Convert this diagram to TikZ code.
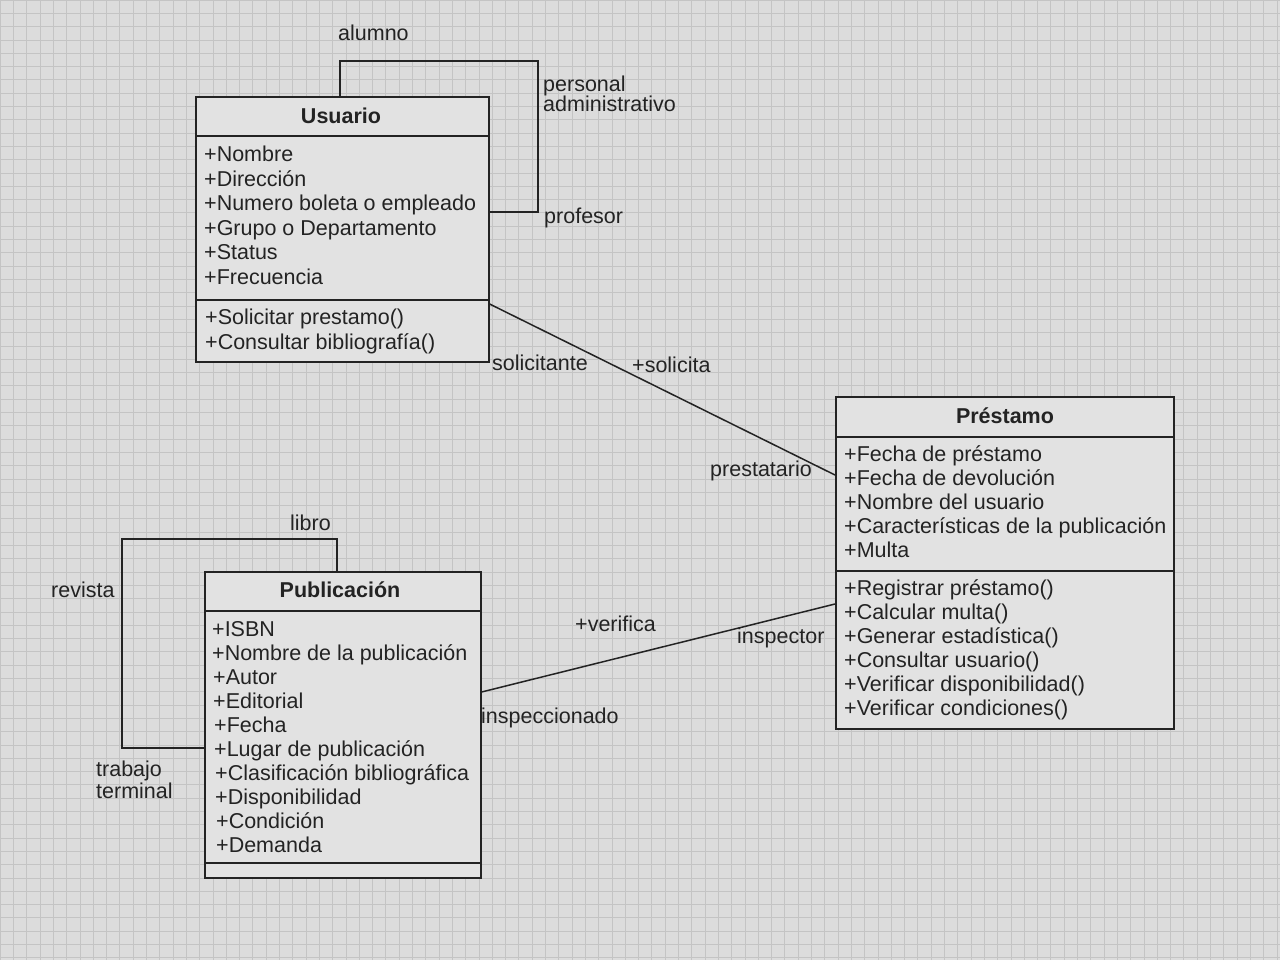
\documentclass[tikz,border=0pt]{standalone}
\usepackage{fontspec}
\setmainfont{Liberation Sans}
\usetikzlibrary{calc}
\definecolor{bg}{RGB}{220,220,220}
\definecolor{gridc}{RGB}{196,196,196}
\definecolor{ink}{RGB}{35,35,35}
\definecolor{boxfill}{RGB}{226,226,226}
\begin{document}
\begin{tikzpicture}[x=1pt,y=-1pt,
  txt/.style={inner sep=0pt, anchor=base west, text=ink, font=\fontsize{21.5}{24}\selectfont},
  ttl/.style={inner sep=0pt, anchor=base, text=ink, font=\fontsize{21.5}{24}\selectfont\bfseries},
  umlbox/.style={draw=ink, line width=1.6pt, fill=boxfill, anchor=north west, inner sep=0pt},
  conn/.style={draw=ink, line width=1.5pt},
  divider/.style={draw=ink, line width=1.6pt},
]
% background and grid
\fill[bg] (0,0) rectangle (1280,960);
\useasboundingbox (0,0) rectangle (1280,960);
\foreach \i in {0,...,96} {\draw[gridc, line width=0.6pt] (\i*13.3,0) -- (\i*13.3,960);}
\foreach \j in {0,...,72} {\draw[gridc, line width=0.6pt] (0,\j*13.3) -- (1280,\j*13.3);}

% ---------------- Usuario ----------------
\node[umlbox, minimum width=293pt, minimum height=265pt] (usr) at (195,96) {};
\draw[divider] ($(usr.north west)+(0,40)$) -- ($(usr.north east)+(0,40)$);
\draw[divider] ($(usr.north west)+(0,204)$) -- ($(usr.north east)+(0,204)$);
\node[ttl] (usrT) at (341,124) {Usuario};
\node[txt] (u1) at (204,162) {+Nombre};
\node[txt] (u2) at (204,186.5) {+Dirección};
\node[txt] (u3) at (204,211) {+Numero boleta o empleado};
\node[txt] (u4) at (204,235.5) {+Grupo o Departamento};
\node[txt] (u5) at (204,260) {+Status};
\node[txt] (u6) at (204,284.5) {+Frecuencia};
\node[txt] (um1) at (205,324) {+Solicitar prestamo()};
\node[txt] (um2) at (205,349) {+Consultar bibliografía()};

% self association of Usuario
\coordinate (uLa) at ($(usr.north west)+(145,0)$);
\coordinate (uLb) at ($(usr.north west)+(145,-35)$);
\coordinate (uLc) at (538,61);
\coordinate (uLd) at (538,212);
\coordinate (uLe) at (usr.east |- uLd);
\draw[conn] (uLa) -- (uLb) -- (uLc) -- (uLd) -- (uLe);
\node[txt] (lAlumno) at (338,40.5) {alumno};
\node[txt] (lPers1) at (543,92) {personal};
\node[txt] (lPers2) at (543,112) {administrativo};
\node[txt] (lProf) at (544,224) {profesor};

% ---------------- Préstamo ----------------
\node[umlbox, minimum width=338pt, minimum height=332pt] (pre) at (835,396) {};
\draw[divider] ($(pre.north west)+(0,41)$) -- ($(pre.north east)+(0,41)$);
\draw[divider] ($(pre.north west)+(0,175)$) -- ($(pre.north east)+(0,175)$);
\node[ttl] (preT) at (1005,423) {Préstamo};
\node[txt] (p1) at (844,461) {+Fecha de préstamo};
\node[txt] (p2) at (844,485) {+Fecha de devolución};
\node[txt] (p3) at (844,509) {+Nombre del usuario};
\node[txt] (p4) at (844,533) {+Características de la publicación};
\node[txt] (p5) at (844,557.5) {+Multa};
\node[txt] (pm1) at (844,595.5) {+Registrar préstamo()};
\node[txt] (pm2) at (844,619.5) {+Calcular multa()};
\node[txt] (pm3) at (844,643.5) {+Generar estadística()};
\node[txt] (pm4) at (844,667.5) {+Consultar usuario()};
\node[txt] (pm5) at (844,691.5) {+Verificar disponibilidad()};
\node[txt] (pm6) at (844,715.5) {+Verificar condiciones()};

% ---------------- Publicación ----------------
\node[umlbox, minimum width=276pt, minimum height=306pt] (pub) at (204,571) {};
\draw[divider] ($(pub.north west)+(0,40)$) -- ($(pub.north east)+(0,40)$);
\draw[divider] ($(pub.north west)+(0,292)$) -- ($(pub.north east)+(0,292)$);
\node[ttl] (pubT) at (340,597) {Publicación};
\node[txt] (b1) at (212,636) {+ISBN};
\node[txt] (b2) at (212,660) {+Nombre de la publicación};
\node[txt] (b3) at (213,684) {+Autor};
\node[txt] (b4) at (213,708) {+Editorial};
\node[txt] (b5) at (214,732) {+Fecha};
\node[txt] (b6) at (214,756) {+Lugar de publicación};
\node[txt] (b7) at (215,780) {+Clasificación bibliográfica};
\node[txt] (b8) at (215,804) {+Disponibilidad};
\node[txt] (b9) at (216,828) {+Condición};
\node[txt] (b10) at (216,852) {+Demanda};

% self association of Publicación
\coordinate (bLa) at ($(pub.north west)+(133,0)$);
\coordinate (bLb) at ($(pub.north west)+(133,-32)$);
\coordinate (bLc) at (122,539);
\coordinate (bLd) at (122,748);
\coordinate (bLe) at (pub.west |- bLd);
\draw[conn] (bLa) -- (bLb) -- (bLc) -- (bLd) -- (bLe);
\node[txt] (lLibro) at (290,530) {libro};
\node[txt] (lRev) at (51,597) {revista};
\node[txt] (lTrab1) at (96,776) {trabajo};
\node[txt] (lTrab2) at (96,798) {terminal};

% ---------------- associations ----------------
\coordinate (aU) at (usr.east |- 0,304);
\coordinate (aP1) at (pre.west |- 0,475);
\draw[conn] (aU) -- (aP1);
\node[txt] (lSolte) at (492,370) {solicitante};
\node[txt] (lSol) at (632,372) {+solicita};
\node[txt] (lPrest) at (710,476) {prestatario};

\coordinate (aB) at (pub.east |- 0,692);
\coordinate (aP2) at (pre.west |- 0,604);
\draw[conn] (aB) -- (aP2);
\node[txt] (lVer) at (575,631) {+verifica};
\node[txt] (lInsp) at (737,643) {inspector};
\node[txt] (lInspdo) at (481,723) {inspeccionado};
\end{tikzpicture}
\end{document}
